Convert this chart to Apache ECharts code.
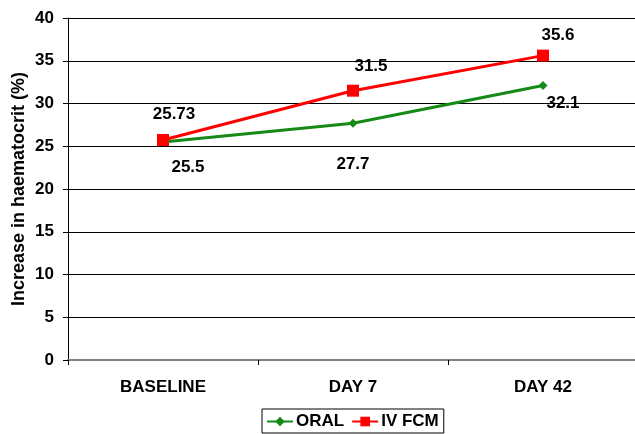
<!DOCTYPE html>
<html>
<head>
<meta charset="utf-8">
<script src="https://cdn.jsdelivr.net/npm/echarts@6/dist/echarts.min.js"></script>
<style>
  html, body { margin: 0; padding: 0; background: #fff; }
  #chart { width: 635px; height: 434px; }
</style>
</head>
<body>
<div id="chart"></div>
<script>
// Haematocrit over time for the two treatment arms
const categories = ['BASELINE', 'DAY 7', 'DAY 42'];
const oralValues = [25.5, 27.7, 32.1];
const ivFcmValues = [25.73, 31.5, 35.6];
const yTicks = [0, 5, 10, 15, 20, 25, 30, 35, 40];

// per-point label placement (pixel offsets from the marker)
const oralLabelOffsets = [[25, 25], [0, 41], [20, 18]];
const ivLabelOffsets = [[11, -26], [18, -24], [15, -20]];

const FONT = 'Liberation Sans, Arial, sans-serif';
const labelFont = { fontFamily: FONT, fontWeight: 'bold', fontSize: 17, color: '#000' };

function pointsWithLabels(values, offsets) {
  return values.map((v, i) => ({
    value: v,
    label: { show: true, position: 'inside', offset: offsets[i], formatter: String(v), ...labelFont }
  }));
}

const chart = echarts.init(document.getElementById('chart'), null, { renderer: 'canvas' });
chart.setOption({
  animation: false,
  backgroundColor: '#fff',
  grid: { left: 68, top: 18, width: 570, height: 342, containLabel: false, outerBoundsMode: 'none' },
  legend: {
    bottom: 1,
    left: 262,
    orient: 'horizontal',
    itemWidth: 26,
    itemHeight: 12,
    itemGap: 7,
    padding: [4, 5, 3, 4],
    borderColor: '#000',
    borderWidth: 1,
    textStyle: { fontFamily: FONT, fontWeight: 'bold', fontSize: 17, color: '#000', padding: [0, 0, 0, -2] },
    data: ['ORAL', 'IV FCM']
  },
  xAxis: {
    type: 'category',
    data: categories,
    boundaryGap: true,
    axisLine: { lineStyle: { color: '#808080', width: 2 } },
    axisTick: { show: true, length: 5, lineStyle: { color: '#000', width: 1 } },
    axisLabel: { margin: 19, fontFamily: FONT, fontWeight: 'bold', fontSize: 17, color: '#000' },
    splitLine: { show: false }
  },
  yAxis: {
    type: 'value',
    min: yTicks[0],
    max: yTicks[yTicks.length - 1],
    interval: 5,
    name: 'Increase in haematocrit (%)',
    nameLocation: 'middle',
    nameGap: 40,
    nameMoveOverlap: false,
    nameTextStyle: { fontFamily: FONT, fontWeight: 'bold', fontSize: 18, color: '#000' },
    axisLine: { show: true, lineStyle: { color: '#000', width: 1 } },
    axisTick: { show: true, length: 5, lineStyle: { color: '#000' } },
    axisLabel: { margin: 14, fontFamily: FONT, fontWeight: 'bold', fontSize: 17, color: '#000' },
    splitLine: { show: true, lineStyle: { color: '#000', width: 1 } }
  },
  series: [
    {
      name: 'ORAL',
      type: 'line',
      data: pointsWithLabels(oralValues, oralLabelOffsets),
      symbol: 'diamond',
      symbolSize: 9,
      lineStyle: { color: '#168a16', width: 3 },
      itemStyle: { color: '#168a16' },
      z: 3
    },
    {
      name: 'IV FCM',
      type: 'line',
      data: pointsWithLabels(ivFcmValues, ivLabelOffsets),
      symbol: 'rect',
      symbolSize: 12,
      lineStyle: { color: '#ff0000', width: 3 },
      itemStyle: { color: '#ff0000' },
      z: 4
    }
  ]
});
</script>
</body>
</html>
